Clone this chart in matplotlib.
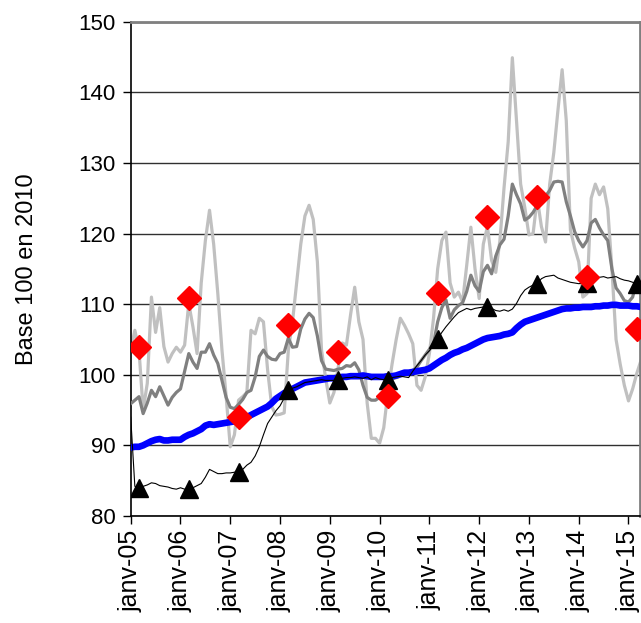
import numpy as np
import matplotlib.pyplot as plt

plt.rcParams['font.family'] = ['Liberation Sans', 'DejaVu Sans']

# monthly series, janv-05 .. avr-15
blue = [89.7, 89.8, 89.8, 90.0, 90.3, 90.6, 90.8, 90.9, 90.7, 90.7, 90.8, 90.8,
        90.8, 91.2, 91.5, 91.7, 92.0, 92.3, 92.8, 93.0, 92.9, 93.0, 93.1, 93.2,
        93.3, 93.4, 93.5, 93.7, 94.0, 94.3, 94.6, 94.9, 95.2, 95.5, 96.0, 96.6,
        97.0, 97.4, 97.7, 98.0, 98.3, 98.6, 98.9, 99.0, 99.1, 99.2, 99.3, 99.4,
        99.5, 99.5, 99.6, 99.7, 99.7, 99.8, 99.8, 99.8, 99.9, 99.8, 99.7, 99.7,
        99.7, 99.7, 99.8, 99.8, 99.9, 100.1, 100.3, 100.3, 100.4, 100.5, 100.6, 100.7,
        100.9, 101.3, 101.7, 102.1, 102.4, 102.8, 103.1, 103.3, 103.6, 103.8, 104.1, 104.4,
        104.7, 105.0, 105.2, 105.3, 105.4, 105.5, 105.7, 105.8, 106.0, 106.6, 107.1, 107.5,
        107.7, 107.9, 108.1, 108.3, 108.5, 108.7, 108.9, 109.1, 109.3, 109.4, 109.4, 109.5,
        109.5, 109.6, 109.6, 109.6, 109.7, 109.7, 109.8, 109.8, 109.9, 109.9, 109.8, 109.8,
        109.8, 109.7, 109.7, 109.6]

black = [94.0, 84.2, 84.0, 84.2, 84.4, 84.7, 84.6, 84.3, 84.2, 84.1, 83.9, 83.8,
         84.0, 83.8, 83.8, 84.0, 84.3, 84.6, 85.5, 86.6, 86.3, 86.0, 86.0, 86.1,
         86.1, 86.2, 86.3, 86.6, 87.2, 87.6, 88.5, 89.8, 91.5, 93.1, 94.0, 94.9,
         95.6, 96.7, 97.8, 98.1, 98.3, 98.6, 98.9, 99.0, 99.1, 99.2, 99.3, 99.2,
         99.2, 99.2, 99.2, 99.5, 99.6, 99.6, 99.7, 99.6, 99.5, 99.7, 99.3, 99.6,
         99.4, 99.3, 99.2, 99.6, 99.7, 99.8, 99.7, 99.6, 100.5, 101.3, 102.0, 102.8,
         103.4, 104.2, 105.1, 106.0, 106.8, 107.5, 108.2, 108.8, 109.1, 109.4, 109.2, 109.4,
         109.5, 109.6, 109.6, 109.4, 109.1, 109.0, 109.2, 109.0, 109.3, 110.1, 111.2, 112.0,
         112.4, 112.7, 112.9, 113.6, 113.9, 114.0, 114.1, 113.7, 113.5, 113.3, 113.1, 113.0,
         112.9, 113.0, 113.0, 113.3, 113.6, 113.8, 113.9, 113.7, 113.8, 113.9, 113.6, 113.4,
         113.3, 113.1, 112.9, 112.9]

dark = [95.9, 96.4, 96.9, 94.5, 96.0, 97.8, 96.9, 98.3, 97.0, 95.7, 96.8, 97.5,
        98.0, 100.5, 103.0, 101.8, 100.9, 103.2, 103.2, 104.4, 102.8, 101.6, 99.2, 96.8,
        95.4, 95.2, 95.8, 96.5, 97.5, 97.8, 99.7, 102.6, 103.5, 102.6, 102.2, 102.1,
        103.0, 103.2, 105.2, 103.9, 104.0, 106.5, 107.9, 108.7, 108.1, 105.5, 102.0, 100.8,
        100.7, 100.6, 100.8, 100.9, 101.3, 101.2, 101.7, 100.7, 98.5, 96.8, 96.4, 96.4,
        96.8, 97.4, 98.8, 99.4, 99.6, 99.8, 100.0, 100.2, 100.6, 101.1, 102.0, 102.8,
        103.6, 104.4, 107.5, 109.5, 110.6, 108.0, 109.2, 109.8, 110.2, 111.8, 114.1, 112.6,
        111.8, 114.6, 115.5, 114.3, 116.8, 118.4, 119.2, 122.5, 127.0, 125.5, 124.2, 121.9,
        122.3, 123.0, 124.0, 124.6, 125.3, 126.1, 127.3, 127.4, 127.3, 124.5, 122.5, 120.3,
        119.0, 118.1, 119.0, 121.5, 122.0, 120.8, 119.8, 119.0, 115.0, 112.3, 111.5, 110.5,
        110.3, 111.0, 113.4, 114.0]

light = [103.5, 106.3, 103.5, 95.0, 98.8, 111.0, 106.0, 109.5, 104.0, 101.8, 103.0, 103.9,
         103.2, 104.2, 110.1, 106.8, 103.0, 113.0, 119.0, 123.3, 118.5, 111.5, 103.5, 97.0,
         89.8, 91.5, 96.4, 96.9, 97.5, 106.3, 105.8, 108.0, 107.5, 100.7, 95.5, 94.3,
         94.4, 94.6, 103.5, 107.5, 113.0, 118.5, 122.5, 124.0, 122.0, 116.0, 103.5, 99.5,
         96.0, 97.5, 101.0, 104.5, 104.2, 108.5, 112.4, 107.5, 105.0, 96.0, 91.0, 91.0,
         90.3, 92.5, 97.5, 101.5, 105.0, 108.0, 107.0, 105.8, 104.4, 98.5, 97.8, 99.7,
         103.0, 108.0, 115.0, 119.0, 120.2, 113.0, 111.0, 111.7, 110.3, 115.5, 120.9, 115.0,
         110.8, 118.5, 121.0, 116.2, 114.5, 119.0, 126.5, 133.0, 144.9, 136.0, 127.0, 123.7,
         119.8, 120.0, 125.0, 121.0, 118.8, 127.0, 131.5, 137.5, 143.2, 136.0, 120.5, 118.0,
         116.0, 111.0, 111.5, 125.0, 127.0, 125.5, 126.6, 123.5, 115.0, 105.0, 101.5, 98.5,
         96.3, 98.0, 100.2, 102.0]

# annual points (mars of each year)
diamonds = [104.0, 110.9, 94.0, 107.1, 103.2, 97.0, 111.6, 122.4, 125.2, 113.9, 106.5]

tick_labels = ['janv-05', 'janv-06', 'janv-07', 'janv-08', 'janv-09', 'janv-10',
               'janv-11', 'janv-12', 'janv-13', 'janv-14', 'janv-15']

months = np.arange(len(blue))
diamond_m = 2 + 12 * np.arange(len(diamonds))

fig = plt.figure(figsize=(6.41, 6.23), dpi=100)
ax = fig.add_axes([130.7 / 641, 107 / 623, 509 / 641, 494.3 / 623])

ax.plot(months, light, color='#C0C0C0', lw=2.3, solid_joinstyle='round', zorder=2)
ax.plot(months, dark, color='#808080', lw=2.3, solid_joinstyle='round', zorder=3)
ax.plot(months, blue, color='#0000FF', lw=4.8, solid_joinstyle='round', zorder=4)
ax.plot(months, black, color='black', lw=0.8, marker='^', ms=13,
        markevery=slice(2, None, 12), zorder=5)
ax.plot(diamond_m, diamonds, ls='none', marker='D', ms=12, color='#FF0000',
        mec='#FF0000', zorder=6)

ax.set_xlim(0, 122.7)
ax.set_ylim(80, 150)
ax.set_yticks(np.arange(80, 151, 10))
ax.set_xticks(np.arange(0, 121, 12))
ax.set_xticklabels(tick_labels, rotation=90, fontsize=18)
ax.tick_params(axis='y', labelsize=16, length=6, width=1, direction='out', pad=5)
ax.tick_params(axis='x', length=6, width=1, direction='out', pad=4)
ax.grid(axis='y', color='#303030', lw=1.0)
ax.set_axisbelow(True)

for side in ['top', 'right']:
    ax.spines[side].set_color('#808080')
    ax.spines[side].set_linewidth(2)
for side in ['left', 'bottom']:
    ax.spines[side].set_color('black')
    ax.spines[side].set_linewidth(1.2)

ax.set_ylabel('Base 100 en 2010', fontsize=17)
ax.yaxis.set_label_coords(-0.183, 0.5)

fig.savefig('out.png', dpi=100)
